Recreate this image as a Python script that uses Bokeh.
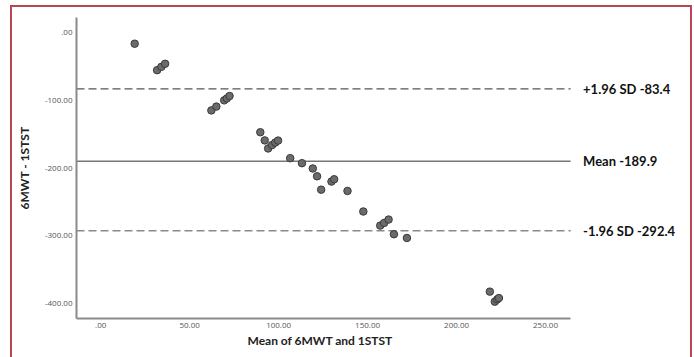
from bokeh.plotting import figure
from bokeh.models import Range1d, FixedTicker, Title
from bokeh.core.properties import value
from bokeh.embed import file_html
from bokeh.resources import INLINE

# Data
mean_vals = [19.1,
             31.7, 34.1, 36.2,
             62.2, 65.0, 69.4, 70.9, 72.4,
             89.7, 92.2, 94.1, 96.3, 98.1, 99.7,
             106.5, 113.1, 119.2, 121.6, 123.9, 129.7, 131.2, 138.7,
             147.6, 157.1, 159.3, 161.8, 164.8, 172.1,
             218.7, 221.5, 222.9, 223.8]
diff_vals = [-16.8,
             -55.8, -50.9, -46.4,
             -115.1, -109.5, -100.3, -97.4, -93.9,
             -147.3, -159.3, -171.2, -166.2, -162.6, -159.6,
             -185.5, -192.9, -200.7, -212.2, -231.9, -220.0, -216.6, -233.8,
             -264.1, -284.9, -280.9, -276.0, -297.6, -303.1,
             -382.2, -397.0, -393.6, -391.7]

upper_loa = -83.4
mean_diff = -189.9
lower_loa = -292.4
limit_labels = ["+1.96 SD -83.4", "Mean -189.9", "-1.96 SD -292.4"]

x_ticks = [0, 50, 100, 150, 200, 250]
x_tick_labels = [".00", "50.00", "100.00", "150.00", "200.00", "250.00"]
y_ticks = [0, -100, -200, -300, -400]
y_tick_labels = [".00", "-100.00", "-200.00", "-300.00", "-400.00"]

x_lo, x_axis_end = -13.6, 264.1
x_frame_end = 332.6
y_lo, y_hi = -421.8, 21.8

p = figure(width=682, height=352, output_backend="svg", toolbar_location=None,
           x_range=Range1d(x_lo, x_frame_end), y_range=Range1d(y_lo, y_hi),
           min_border_left=64, min_border_right=2, min_border_top=10,
           min_border_bottom=41)
p.margin = (5, 0, 0, 10)
p.styles = {"border-left": "2px solid #b84552", "border-top": "2px solid #b84552",
            "border-right": "2px solid #b84552"}
p.grid.visible = False
p.outline_line_color = None
p.background_fill_color = "white"
p.border_fill_color = "white"

label_font = "Lato"
for ax in (p.xaxis[0], p.yaxis[0]):
    ax.axis_line_color = "#8a8a8a"
    ax.axis_line_width = 2
    ax.major_tick_line_color = None
    ax.minor_tick_line_color = None
    ax.major_tick_out = 0
    ax.major_tick_in = 0
    ax.major_label_text_font = "Open Sans"
    ax.major_label_text_font_size = "8px"
    ax.major_label_text_color = "#555555"
    ax.axis_label_text_font = label_font
    ax.axis_label_text_font_style = "bold"
    ax.axis_label_text_font_size = "12px"
    ax.axis_label_text_color = "#222222"

p.xaxis.bounds = (x_lo, x_axis_end)
p.xaxis.ticker = FixedTicker(ticks=x_ticks)
p.xaxis.major_label_overrides = dict(zip(x_ticks, x_tick_labels))
p.yaxis.ticker = FixedTicker(ticks=y_ticks)
p.yaxis.major_label_overrides = dict(zip(y_ticks, y_tick_labels))
p.yaxis.axis_label = "6MWT - 1STST"
p.xaxis.major_label_standoff = 4
p.yaxis.major_label_standoff = 4
p.yaxis.axis_label_standoff = 10

# x axis title, centred under the axis line (not the wider frame)
p.add_layout(Title(text="Mean of 6MWT and 1STST", align="left", offset=171,
                   standoff=0, text_font=label_font, text_font_style="bold",
                   text_font_size="12px", text_color="#222222"), "below")

p.segment(x0=x_lo, x1=x_axis_end, y0=upper_loa, y1=upper_loa,
          line_color="#555555", line_width=1.2, line_dash="8 4")
p.segment(x0=x_lo, x1=x_axis_end, y0=mean_diff, y1=mean_diff,
          line_color="#777777", line_width=1.5)
p.segment(x0=x_lo, x1=x_axis_end, y0=lower_loa, y1=lower_loa,
          line_color="#8a8a8a", line_width=1.5, line_dash="8 4")

p.scatter(mean_vals, diff_vals, size=7.5, fill_color="#6b6b6b",
          line_color="#3a3a3a", line_width=1)

p.text(x=[x_axis_end + 7] * 3, y=[upper_loa, mean_diff, lower_loa],
       text=limit_labels, text_baseline="middle", text_align="left",
       text_font=value(label_font), text_font_style="bold",
       text_font_size="13px", text_color="#111111")

open("out.html", "w").write(file_html(p, INLINE))
